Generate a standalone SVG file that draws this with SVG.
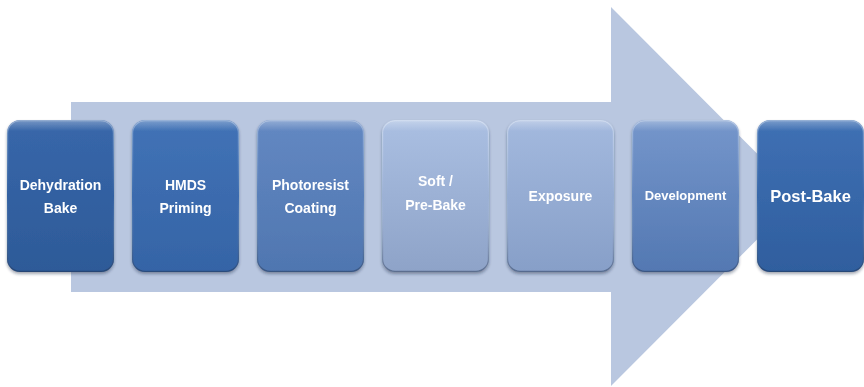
<svg xmlns="http://www.w3.org/2000/svg" width="864" height="387" viewBox="0 0 864 387">
  <style>
    .lbl { font-family: "Liberation Sans", Arial, sans-serif; font-weight: bold; font-size: 14px; fill: #ffffff; text-anchor: middle; }
    .box { filter: url(#shadow); }
    .rim { fill: url(#hl); stroke: url(#edge); stroke-width: 1.2; }
  </style>
  <defs>
    <filter id="shadow" x="-20%" y="-20%" width="140%" height="140%">
      <feDropShadow dx="0" dy="2" stdDeviation="1.8" flood-color="#1a2a40" flood-opacity="0.4"/>
    </filter>
    <linearGradient id="g1" x1="0" y1="0" x2="0" y2="1">
      <stop offset="0" stop-color="#3867aa"/>
      <stop offset="1" stop-color="#2d5a98"/>
    </linearGradient>
    <linearGradient id="g2" x1="0" y1="0" x2="0" y2="1">
      <stop offset="0" stop-color="#4172b6"/>
      <stop offset="1" stop-color="#3564a6"/>
    </linearGradient>
    <linearGradient id="g3" x1="0" y1="0" x2="0" y2="1">
      <stop offset="0" stop-color="#6388c2"/>
      <stop offset="1" stop-color="#4f76b0"/>
    </linearGradient>
    <linearGradient id="g4" x1="0" y1="0" x2="0" y2="1">
      <stop offset="0" stop-color="#aabfe2"/>
      <stop offset="1" stop-color="#8ea3c8"/>
    </linearGradient>
    <linearGradient id="g5" x1="0" y1="0" x2="0" y2="1">
      <stop offset="0" stop-color="#a3b9de"/>
      <stop offset="1" stop-color="#879fc8"/>
    </linearGradient>
    <linearGradient id="g6" x1="0" y1="0" x2="0" y2="1">
      <stop offset="0" stop-color="#7596cb"/>
      <stop offset="1" stop-color="#5378b2"/>
    </linearGradient>
    <linearGradient id="g7" x1="0" y1="0" x2="0" y2="1">
      <stop offset="0" stop-color="#3f70b4"/>
      <stop offset="1" stop-color="#2f5e9e"/>
    </linearGradient>
    <!-- soft top sheen -->
    <linearGradient id="hl" x1="0" y1="0" x2="0" y2="1">
      <stop offset="0" stop-color="#ffffff" stop-opacity="0.3"/>
      <stop offset="0.07" stop-color="#ffffff" stop-opacity="0"/>
    </linearGradient>
    <!-- bevel rim: light on top, dark at the bottom -->
    <linearGradient id="edge" x1="0" y1="0" x2="0" y2="1">
      <stop offset="0" stop-color="#ffffff" stop-opacity="0.35"/>
      <stop offset="0.5" stop-color="#ffffff" stop-opacity="0"/>
      <stop offset="1" stop-color="#1c2c48" stop-opacity="0.45"/>
    </linearGradient>
  </defs>

  <!-- background flow arrow -->
  <g id="connectors">
    <polygon points="71,102 611,102 611,7 800,196.5 611,386 611,292 71,292" fill="#b9c7e0"/>
  </g>

  <g id="step1" class="box">
    <rect x="7" y="120" width="107" height="152" rx="13" fill="url(#g1)"/>
    <rect class="rim" x="7.6" y="120.6" width="105.8" height="150.8" rx="12.5"/>
    <text class="lbl" x="60.5" y="190">Dehydration</text>
    <text class="lbl" x="60.5" y="213">Bake</text>
  </g>
  <g id="step2" class="box">
    <rect x="132" y="120" width="107" height="152" rx="13" fill="url(#g2)"/>
    <rect class="rim" x="132.6" y="120.6" width="105.8" height="150.8" rx="12.5"/>
    <text class="lbl" x="185.5" y="190">HMDS</text>
    <text class="lbl" x="185.5" y="213">Priming</text>
  </g>
  <g id="step3" class="box">
    <rect x="257" y="120" width="107" height="152" rx="13" fill="url(#g3)"/>
    <rect class="rim" x="257.6" y="120.6" width="105.8" height="150.8" rx="12.5"/>
    <text class="lbl" x="310.5" y="190">Photoresist</text>
    <text class="lbl" x="310.5" y="213">Coating</text>
  </g>
  <g id="step4" class="box">
    <rect x="382" y="120" width="107" height="152" rx="13" fill="url(#g4)"/>
    <rect class="rim" x="382.6" y="120.6" width="105.8" height="150.8" rx="12.5"/>
    <text class="lbl" x="435.5" y="186">Soft /</text>
    <text class="lbl" x="435.5" y="210">Pre-Bake</text>
  </g>
  <g id="step5" class="box">
    <rect x="507" y="120" width="107" height="152" rx="13" fill="url(#g5)"/>
    <rect class="rim" x="507.6" y="120.6" width="105.8" height="150.8" rx="12.5"/>
    <text class="lbl" x="560.5" y="201">Exposure</text>
  </g>
  <g id="step6" class="box">
    <rect x="632" y="120" width="107" height="152" rx="13" fill="url(#g6)"/>
    <rect class="rim" x="632.6" y="120.6" width="105.8" height="150.8" rx="12.5"/>
    <text class="lbl" x="685.5" y="200" style="font-size:13px">Development</text>
  </g>
  <g id="step7" class="box">
    <rect x="757" y="120" width="107" height="152" rx="13" fill="url(#g7)"/>
    <rect class="rim" x="757.6" y="120.6" width="105.8" height="150.8" rx="12.5"/>
    <text class="lbl" x="810.5" y="202" style="font-size:16.5px">Post-Bake</text>
  </g>
</svg>
